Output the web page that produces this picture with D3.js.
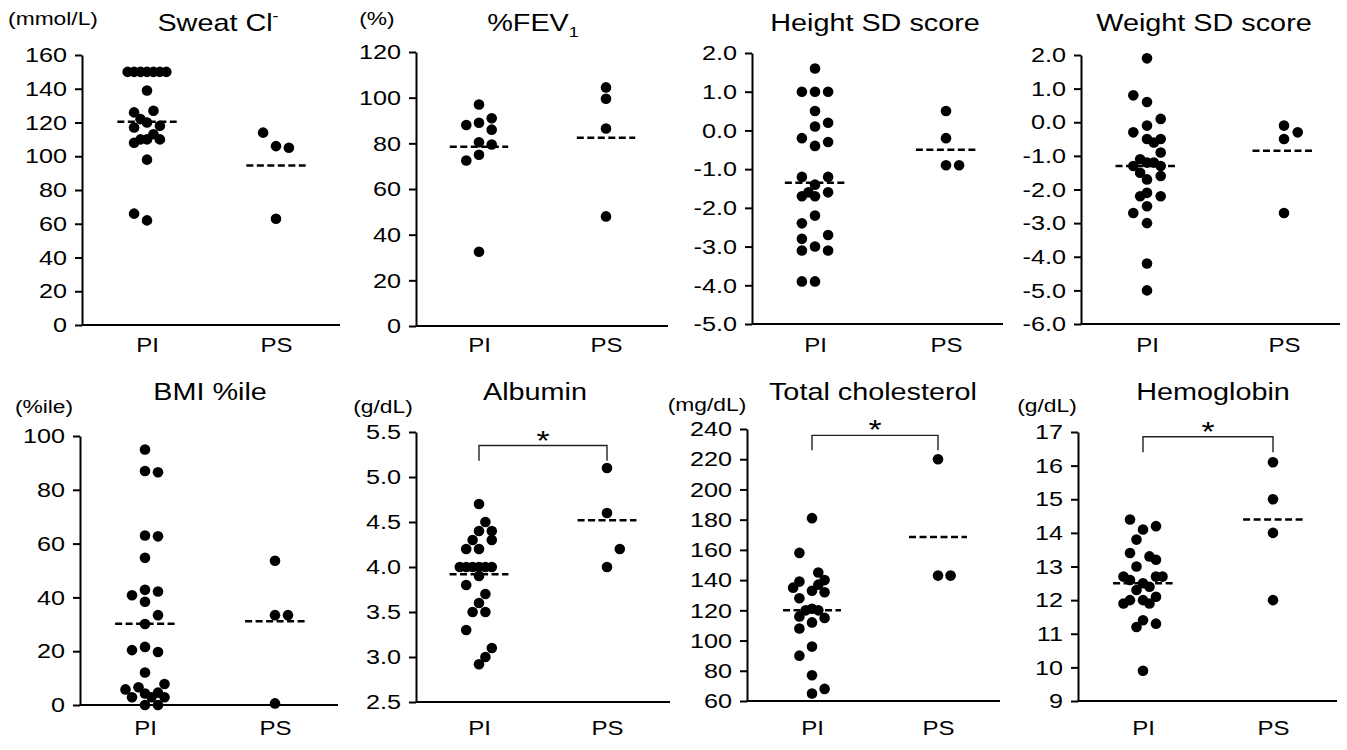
<!DOCTYPE html>
<html><head><meta charset="utf-8">
<script src="https://cdn.jsdelivr.net/npm/d3@7"></script>
<style>
body{margin:0;background:#fff}
svg{display:block}
text{font-family:"Liberation Sans",Arial,sans-serif;fill:#000}
</style>
</head><body>
<svg id="chart" width="1347" height="750"></svg>
<script>
// ---------------- DATA ----------------
const categories = ["PI", "PS"];
const categoryX = [1, 2];

// Sweat Cl- (mmol/L)
const sweatTicks = [0, 20, 40, 60, 80, 100, 120, 140, 160];
const sweatPI  = [150,150,150,150,150,150,150,139,126,127,122,120,118,117,113,108,110,110,110,98,66,62];
const sweatPIx = [0.85,0.9,0.95,1.0,1.05,1.1,1.15,1.0,0.9,1.05,0.95,1.0,1.1,0.9,1.05,0.9,0.95,1.0,1.1,1.0,0.9,1.0];
const sweatPS  = [114,106,105,63];
const sweatPSx = [1.9,2.0,2.1,2.0];
const sweatMed = [120.5, 94.5];

// %FEV1 (%)
const fevTicks = [0, 20, 40, 60, 80, 100, 120];
const fevPI  = [97,88,89,91,86,80.5,79.5,75,72.5,32.5];
const fevPIx = [1.0,0.9,1.0,1.1,1.1,1.0,1.1,1.0,0.9,1.0];
const fevPS  = [104.5,99.5,86.5,48];
const fevPSx = [2.0,2.0,2.0,2.0];
const fevMed = [78.5, 82.5];

// Height SD score
const heightTicks = [-5, -4, -3, -2, -1, 0, 1, 2];
const heightPI  = [1.6,1.0,1.0,1.0,0.5,0.1,0.2,-0.2,-0.4,-0.3,-1.2,-1.2,-1.4,-1.6,-1.7,-1.7,-1.6,-2.2,-2.4,-2.8,-2.7,-3.0,-3.1,-3.1,-3.9,-3.9];
const heightPIx = [1.0,0.9,1.0,1.1,1.0,1.0,1.1,0.9,1.0,1.1,0.9,1.1,1.0,0.95,0.9,1.0,1.1,1.0,0.9,0.9,1.1,1.0,0.9,1.1,0.9,1.0];
const heightPS  = [0.5,-0.2,-0.9,-0.9];
const heightPSx = [2.0,2.0,2.0,2.1];
const heightMed = [-1.35, -0.5];

// Weight SD score
const weightTicks = [-6, -5, -4, -3, -2, -1, 0, 1, 2];
const weightPI  = [1.9,0.8,0.6,0.1,-0.1,-0.3,-0.5,-0.6,-0.5,-0.9,-1.1,-1.3,-1.2,-1.2,-1.3,-1.5,-1.6,-1.7,-2.1,-2.2,-2.2,-2.5,-2.7,-3.0,-4.2,-5.0];
const weightPIx = [1.0,0.9,1.0,1.1,1.0,0.9,1.0,1.05,1.1,1.1,0.95,0.9,1.0,1.05,1.1,0.95,1.1,1.0,1.0,0.95,1.1,1.0,0.9,1.0,1.0,1.0];
const weightPS  = [-0.1,-0.3,-0.5,-2.7];
const weightPSx = [2.0,2.1,2.0,2.0];
const weightMed = [-1.3, -0.85];

// BMI %ile
const bmiTicks = [0, 20, 40, 60, 80, 100];
const bmiPI  = [95,87,86.5,63,62.7,54.7,42.8,42.2,40.8,38.4,33.4,30.1,20.4,21.6,19.7,12.1,5.8,6.6,7.8,2.9,4.3,2.9,4.6,2.9,0,0];
const bmiPIx = [1.0,1.0,1.1,1.0,1.1,1.0,1.0,1.1,0.9,1.0,1.1,1.0,0.9,1.0,1.1,1.0,0.85,0.95,1.15,0.9,1.0,1.05,1.1,1.15,1.0,1.1];
const bmiPS  = [53.6,33.4,33.4,0.6];
const bmiPSx = [2.0,2.0,2.1,2.0];
const bmiMed = [30.2, 31.1];

// Albumin (g/dL)
const albTicks = [2.5, 3.0, 3.5, 4.0, 4.5, 5.0, 5.5];
const albPI  = [4.7,4.5,4.4,4.4,4.3,4.3,4.2,4.2,4.0,4.0,4.0,4.0,4.0,4.0,3.9,3.8,3.7,3.6,3.5,3.5,3.3,3.1,3.0,2.92];
const albPIx = [1.0,1.05,1.0,1.1,0.95,1.1,0.9,1.0,0.85,0.9,0.95,1.0,1.05,1.1,1.0,0.9,1.05,1.0,0.95,1.05,0.9,1.1,1.05,1.0];
const albPS  = [5.1,4.6,4.2,4.0];
const albPSx = [2.0,2.0,2.1,2.0];
const albMed = [3.92, 4.52];
const albBracket = [5.35, 5.18];

// Total cholesterol (mg/dL)
const cholTicks = [60, 80, 100, 120, 140, 160, 180, 200, 220, 240];
const cholPI  = [181,158,145,140,137,139,135,133,132,128,120,121,120,116,115,112,108,96,90,77,68,65];
const cholPIx = [1.0,0.9,1.05,1.1,1.05,0.9,0.85,1.0,1.1,0.9,0.95,1.0,1.05,0.9,1.1,1.0,0.9,1.0,0.9,1.0,1.1,1.0];
const cholPS  = [220,143,143];
const cholPSx = [2.0,2.0,2.1];
const cholMed = [120, 168.5];
const cholBracket = [235.8, 226];

// Hemoglobin (g/dL)
const hbTicks = [9, 10, 11, 12, 13, 14, 15, 16, 17];
const hbPI  = [14.4,14.2,14.1,13.8,13.4,13.3,13.2,13.0,12.7,12.6,12.7,12.7,12.5,12.4,12.3,12.0,11.9,12.0,11.9,12.1,11.4,11.2,11.3,9.9];
const hbPIx = [0.9,1.1,1.0,0.95,0.9,1.05,1.1,0.95,0.85,0.9,1.1,1.15,1.0,1.05,0.95,0.9,0.85,1.0,1.05,1.1,1.0,0.95,1.1,1.0];
const hbPS  = [16.1,15.0,14.0,12.0];
const hbPSx = [2.0,2.0,2.0,2.0];
const hbMed = [12.5, 14.4];
const hbBracket = [16.86, 16.4];

const titles = ["Sweat Cl", "%FEV", "Height SD score", "Weight SD score", "BMI %ile", "Albumin", "Total cholesterol", "Hemoglobin"];
const units  = ["(mmol/L)", "(%)", "", "", "(%ile)", "(g/dL)", "(mg/dL)", "(g/dL)"];

// ---------------- LAYOUT ----------------
const SX = 1.2; // horizontal text stretch seen in the reference
const FONT = '"Liberation Sans",Arial,sans-serif';
const fmtInt = d => String(d);
const fmt1 = d => d.toFixed(1);
const panels = [
  {t:0, ticks:sweatTicks, fmt:fmtInt, pi:sweatPI, pix:sweatPIx, ps:sweatPS, psx:sweatPSx, med:sweatMed,
   x0:82, x1:340, c1:147, c2:276, top:55, bot:325, titleX:218, titleY:31, unitX:53, unitY:25, catY:352, sup:"-"},
  {t:1, ticks:fevTicks, fmt:fmtInt, pi:fevPI, pix:fevPIx, ps:fevPS, psx:fevPSx, med:fevMed,
   x0:416, x1:668, c1:479, c2:606, top:52, bot:326, titleX:533, titleY:31, unitX:377, unitY:25, catY:352, sub:"1"},
  {t:2, ticks:heightTicks, fmt:fmt1, pi:heightPI, pix:heightPIx, ps:heightPS, psx:heightPSx, med:heightMed,
   x0:752, x1:1003, c1:815, c2:946, top:53, bot:324, titleX:875, titleY:31, catY:352},
  {t:3, ticks:weightTicks, fmt:fmt1, pi:weightPI, pix:weightPIx, ps:weightPS, psx:weightPSx, med:weightMed,
   x0:1081, x1:1340, c1:1147, c2:1284, top:55, bot:324, titleX:1204, titleY:31, catY:352},
  {t:4, ticks:bmiTicks, fmt:fmtInt, pi:bmiPI, pix:bmiPIx, ps:bmiPS, psx:bmiPSx, med:bmiMed,
   x0:80, x1:338, c1:145, c2:275, top:436, bot:705, titleX:210, titleY:400, unitX:44, unitY:413, catY:735},
  {t:5, ticks:albTicks, fmt:fmt1, pi:albPI, pix:albPIx, ps:albPS, psx:albPSx, med:albMed, br:albBracket,
   x0:416, x1:670, c1:479, c2:607, top:432, bot:702, titleX:535, titleY:400, unitX:383, unitY:413, catY:735},
  {t:6, ticks:cholTicks, fmt:fmtInt, pi:cholPI, pix:cholPIx, ps:cholPS, psx:cholPSx, med:cholMed, br:cholBracket,
   x0:747, x1:1000, c1:812, c2:938, top:429, bot:701, titleX:873, titleY:400, unitX:707, unitY:411, catY:735},
  {t:7, ticks:hbTicks, fmt:fmtInt, pi:hbPI, pix:hbPIx, ps:hbPS, psx:hbPSx, med:hbMed, br:hbBracket,
   x0:1078, x1:1337, c1:1143, c2:1273, top:432, bot:701, titleX:1213, titleY:400, unitX:1047, unitY:412, catY:735}
];

const svg = d3.select("#chart");
svg.append("rect").attr("width",1347).attr("height",750).attr("fill","#fff");

function stretchedText(parent, x, y, size, str) {
  return parent.append("text")
    .attr("transform", `translate(${x},${y}) scale(${SX},1)`)
    .attr("text-anchor","middle").attr("font-size", size).attr("font-family", FONT).text(str);
}

panels.forEach(p => {
  const g = svg.append("g");
  const y = d3.scaleLinear().domain(d3.extent(p.ticks)).range([p.bot, p.top]);
  const x = d3.scaleLinear().domain(categoryX).range([p.c1, p.c2]);

  // y axis
  const ya = g.append("g").attr("transform", `translate(${p.x0},0)`)
    .call(d3.axisLeft(y).tickValues(p.ticks).tickFormat(p.fmt).tickSize(7).tickSizeOuter(0).tickPadding(8));
  ya.select(".domain").attr("stroke","#000").attr("stroke-width",2);
  ya.selectAll(".tick line").attr("stroke","#000").attr("stroke-width",2);
  ya.selectAll(".tick text").attr("font-size",21).attr("font-family",FONT).attr("fill","#000")
    .each(function(){ const t=d3.select(this); const xx=+t.attr("x"); t.attr("x", xx/SX).attr("transform",`scale(${SX},1)`); });

  // x axis line
  g.append("line").attr("x1",p.x0).attr("x2",p.x1).attr("y1",p.bot).attr("y2",p.bot)
    .attr("stroke","#000").attr("stroke-width",2);
  // category labels via axis
  const xa = g.append("g").attr("transform", `translate(0,${p.bot})`)
    .call(d3.axisBottom(x).tickValues(categoryX).tickFormat((d,i)=>categories[i]).tickSize(0).tickSizeOuter(0).tickPadding(0));
  xa.select(".domain").remove();
  xa.selectAll(".tick text").attr("font-size",20).attr("font-family",FONT).attr("fill","#000")
    .attr("dy",null).attr("y",null).attr("transform",`translate(0,${p.catY - p.bot}) scale(${SX},1)`);

  // medians
  const medData = categoryX.map((c,i)=>({c, v:p.med[i]}));
  g.selectAll("line.med").data(medData).join("line").attr("class","med")
    .attr("x1", d=>x(d.c-0.23)).attr("x2", d=>x(d.c+0.23))
    .attr("y1", d=>y(d.v)).attr("y2", d=>y(d.v))
    .attr("stroke","#000").attr("stroke-width",2.5).attr("stroke-dasharray","7,3.5");

  // points
  const pts = p.pi.map((v,i)=>({v, x:p.pix[i]})).concat(p.ps.map((v,i)=>({v, x:p.psx[i]})));
  g.selectAll("circle").data(pts).join("circle")
    .attr("cx", d=>x(d.x)).attr("cy", d=>y(d.v)).attr("r",5.3).attr("fill","#000");

  // bracket
  if (p.br) {
    const [yt, yl] = p.br;
    g.append("path")
      .attr("d", `M${x(1)},${y(yl)}V${y(yt)}H${x(2)}V${y(yl)}`)
      .attr("fill","none").attr("stroke","#222").attr("stroke-width",1.4);
    stretchedText(g, (x(1)+x(2))/2, y(yt)+4, 28, "*");
  }

  // title
  const tt = stretchedText(g, p.titleX, p.titleY, 24, titles[p.t]);
  if (p.sup) tt.append("tspan").attr("dy",-10).attr("font-size",15).text(p.sup);
  if (p.sub) tt.append("tspan").attr("dy",6).attr("font-size",15).text(p.sub);

  // unit
  if (units[p.t]) stretchedText(g, p.unitX, p.unitY, 19, units[p.t]);
});
</script>
</body></html>
